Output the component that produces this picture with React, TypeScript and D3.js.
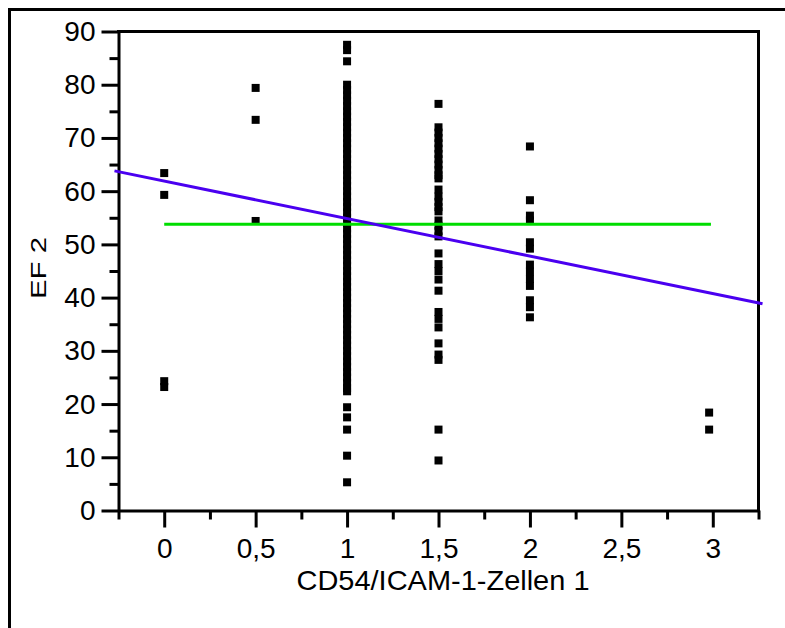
import React, { useRef, useEffect } from "react";
import * as d3 from "d3";

// EF 2 values read per CD54/ICAM-1 group
const group0 = [63.4, 59.3, 24.3, 23.2];
const group05 = [79.4, 73.4, 54.4];
const group1 = [
  87.5, 86.5, 84.4, 80, 79, 78, 77, 76, 75, 74, 73, 72, 71, 70, 69, 68, 67, 66,
  65, 64, 63, 62, 61, 60, 59, 58, 57, 56, 55, 54, 53, 52, 51, 50, 49, 48, 47,
  46, 45, 44, 43, 42, 41, 40, 39, 38, 37, 36, 35, 34, 33, 32, 31, 30, 29, 28,
  27, 26, 25, 24, 23, 22.4, 19.4, 17.5, 15.2, 10.3, 5.3,
];
const group15 = [
  76.4, 72, 71, 70, 69, 68, 67, 66, 65, 64, 63, 62.4, 60.3, 59, 58, 57, 56.2,
  54.5, 53.5, 52.5, 51.5, 48.3, 46.3, 45, 43.4, 41.3, 37.3, 36, 34.4, 31.4,
  29.3, 28.3, 15.2, 9.4,
];
const group2 = [68.4, 58.3, 55.4, 54.5, 50.4, 49.2, 46.2, 44.9, 43.5, 42.2, 39.5, 38.2, 36.3];
const group3 = [18.4, 15.2];

const groupX = [0, 0.5, 1, 1.5, 2, 2.98];
const groupValues = [group0, group05, group1, group15, group2, group3];

// fitted lines
const meanValue = 53.8;
const meanRange = [0, 2.99];
const fitIntercept = 61.9;
const fitSlope = -7.05;
const fitRange = [-0.272, 3.272];

const xMajor = [0, 0.5, 1, 1.5, 2, 2.5, 3];
const xMinor = [-0.25, 0.25, 0.75, 1.25, 1.75, 2.25, 2.75, 3.25];
const yMajor = [0, 10, 20, 30, 40, 50, 60, 70, 80, 90];
const yMinor = [5, 15, 25, 35, 45, 55, 65, 75, 85];

const FONT = "'Liberation Sans', Arial, Helvetica, sans-serif";

function ScatterChart() {
  const svgRef = useRef(null);

  useEffect(() => {
    const svg = d3.select(svgRef.current);
    svg.selectAll("*").remove();

    const left = 118.5;
    const right = 758.5;
    const top = 31.5;
    const bottom = 510.5;

    const x = d3.scaleLinear().domain([-0.25, 3.25]).range([left, right]);
    const y = d3.scaleLinear().domain([0, 90]).range([bottom, top]);

    // outer frame (only left and top show in the window)
    svg
      .append("path")
      .attr("d", "M9.5,640V9.5H800")
      .attr("fill", "none")
      .attr("stroke", "#000")
      .attr("stroke-width", 3);

    const fmt = (d) => String(d).replace(".", ",");

    // x axis
    const gx = svg.append("g").attr("transform", `translate(0, ${bottom})`);
    gx.call(d3.axisBottom(x).tickValues(xMajor).tickSize(17).tickSizeOuter(0).tickPadding(11).tickFormat(fmt));
    const gxm = svg.append("g").attr("transform", `translate(0, ${bottom})`);
    gxm.call(d3.axisBottom(x).tickValues(xMinor).tickSize(9).tickSizeOuter(0).tickFormat(() => ""));
    gxm.select(".domain").remove();

    // y axis
    const gy = svg.append("g").attr("transform", `translate(${left}, 0)`);
    gy.call(d3.axisLeft(y).tickValues(yMajor).tickSize(17).tickSizeOuter(0).tickPadding(6).tickFormat(fmt));
    const gym = svg.append("g").attr("transform", `translate(${left}, 0)`);
    gym.call(d3.axisLeft(y).tickValues(yMinor).tickSize(9).tickSizeOuter(0).tickFormat(() => ""));
    gym.select(".domain").remove();

    svg.selectAll(".tick line, .domain").attr("stroke", "#000").attr("stroke-width", 3);
    svg
      .selectAll(".tick text")
      .attr("font-family", FONT)
      .attr("font-size", 28)
      .attr("fill", "#000");

    // top and right borders
    svg
      .append("path")
      .attr("d", `M${left},${top}H${right}V${bottom}`)
      .attr("fill", "none")
      .attr("stroke", "#000")
      .attr("stroke-width", 3)
      .attr("stroke-linecap", "square");

    // points
    const points = [];
    groupX.forEach((gxVal, i) => {
      groupValues[i].forEach((v) => points.push({ x: gxVal, y: v }));
    });
    const s = 8;
    svg
      .append("g")
      .selectAll("rect")
      .data(points)
      .enter()
      .append("rect")
      .attr("x", (d) => x(d.x) - s / 2)
      .attr("y", (d) => y(d.y) - s / 2)
      .attr("width", s)
      .attr("height", s)
      .attr("fill", "#000");

    // mean line
    svg
      .append("line")
      .attr("x1", x(meanRange[0]))
      .attr("x2", x(meanRange[1]))
      .attr("y1", y(meanValue))
      .attr("y2", y(meanValue))
      .attr("stroke", "#00dd00")
      .attr("stroke-width", 3);

    // regression line
    const fitLine = d3
      .line()
      .x((d) => x(d))
      .y((d) => y(fitIntercept + fitSlope * d));
    svg
      .append("path")
      .attr("d", fitLine(fitRange))
      .attr("fill", "none")
      .attr("stroke", "#4a00f0")
      .attr("stroke-width", 3);

    // axis labels
    svg
      .append("text")
      .attr("x", 443)
      .attr("y", 590)
      .attr("text-anchor", "middle")
      .attr("font-family", FONT)
      .attr("font-size", 28)
      .attr("textLength", 293)
      .attr("lengthAdjust", "spacingAndGlyphs")
      .text("CD54/ICAM-1-Zellen 1");

    svg
      .append("text")
      .attr("transform", "translate(46, 268) rotate(-90)")
      .attr("text-anchor", "middle")
      .attr("font-family", FONT)
      .attr("font-size", 22)
      .attr("textLength", 62)
      .attr("lengthAdjust", "spacingAndGlyphs")
      .text("EF 2");
  }, []);

  return (
    <svg
      ref={svgRef}
      width={785}
      height={628}
      style={{ position: "absolute", left: 0, top: 0, background: "#fff" }}
    ></svg>
  );
}

export default function App() {
  return <ScatterChart />;
}
